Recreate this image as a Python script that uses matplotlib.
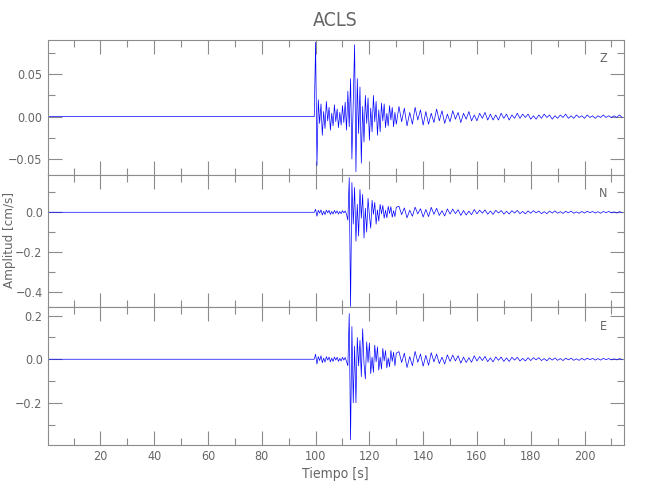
import numpy as np
import matplotlib
matplotlib.use("Agg")
import matplotlib.pyplot as plt
from matplotlib.ticker import MultipleLocator

# Estación y componentes
station = "ACLS"
components = ["Z", "N", "E"]

# Muestreo de tiempo (s): tramo previo, tramo denso (0.5 s) y coda (1 s)
t_pre = [0.0, 99.5]
t_dense = np.arange(100.0, 130.01, 0.5)
t_coda = np.arange(131.0, 214.01, 1.0)

z_pre = [0.0, 0.0]
z_dense = [0.088, -0.058, 0.020, -0.008, 0.015, -0.022, 0.006, -0.014, 0.018, -0.005,
           0.011, -0.016, 0.004, -0.011, 0.014, -0.006, 0.009, -0.013, 0.005, -0.010,
           0.013, -0.007, 0.017, -0.016,
           0.030, -0.012, 0.045, -0.050, 0.020, 0.085, -0.065, 0.045, -0.020, 0.035,
           -0.055, 0.012, -0.030, 0.025, -0.008, 0.022, -0.028, 0.010, -0.018, 0.025,
           -0.006, 0.018, -0.022, 0.008, -0.018, 0.016, -0.005, 0.015, -0.013, 0.004,
           -0.011, 0.013, -0.004, 0.011, -0.012, 0.005, -0.009]
z_coda = [0.012, -0.006, 0.010, -0.011, 0.005, -0.009, 0.011, -0.004, 0.008, -0.010,
          0.006, -0.009, 0.004, -0.007, 0.009, -0.005, 0.007, -0.008, 0.003, -0.006,
          0.007, -0.003, 0.005, -0.007, 0.004, -0.003, 0.006, -0.005, 0.002, -0.005,
          0.004, -0.002, 0.005, -0.004, 0.003, -0.004, 0.002, -0.004, 0.004, -0.002,
          0.003, -0.004, 0.002, -0.002, 0.004, -0.002, 0.003, -0.001, 0.003, -0.003,
          0.001, -0.003, 0.002, -0.002, 0.003, -0.001, 0.002, -0.003, 0.001, -0.002,
          0.002, -0.001, 0.003, -0.002, 0.001, -0.002, 0.002, -0.001, 0.001, -0.002,
          0.002, -0.001, 0.001, -0.002, 0.001, -0.001, 0.002, -0.001, 0.001, -0.001,
          0.001, -0.001, 0.002, -0.001]

n_pre = [0.0, 0.0]
n_dense = [0.015, -0.020, 0.010, -0.004, 0.012, -0.014, 0.005, -0.012, 0.011, -0.003,
           0.010, -0.011, 0.004, -0.009, 0.009, -0.005, 0.007, -0.009, 0.004, -0.007,
           0.008, -0.003, 0.007, -0.010,
           -0.040, 0.175, -0.476, 0.150, -0.060, 0.125, -0.146, 0.040, -0.120, 0.115,
           -0.030, 0.090, -0.130, 0.020, -0.100, 0.070, -0.015, -0.080, 0.060, -0.010,
           0.050, -0.060, 0.012, -0.045, 0.040, -0.008, 0.035, -0.030, 0.010, -0.028,
           0.030, -0.006, 0.028, -0.025, 0.008, -0.022, 0.025]
n_coda = [0.030, -0.012, 0.022, -0.028, 0.010, -0.020, 0.026, -0.008, 0.018, -0.024,
          0.014, -0.022, 0.025, -0.010, 0.020, -0.016, 0.008, -0.019, 0.017, -0.009,
          0.016, -0.007, 0.013, -0.016, 0.009, -0.014, 0.006, -0.012, 0.014, -0.008,
          0.011, -0.005, 0.012, -0.010, 0.006, -0.011, 0.010, -0.004, 0.009, -0.009,
          0.005, -0.009, 0.008, -0.004, 0.009, -0.007, 0.004, -0.008, 0.007, -0.005,
          0.008, -0.003, 0.006, -0.007, 0.003, -0.007, 0.006, -0.004, 0.007, -0.005,
          0.003, -0.006, 0.005, -0.003, 0.006, -0.005, 0.002, -0.005, 0.004, -0.004,
          0.005, -0.002, 0.004, -0.004, 0.003, -0.005, 0.004, -0.002, 0.004, -0.003,
          0.002, -0.004, 0.003, -0.002]

e_pre = [0.0, 0.0]
e_dense = [0.023, -0.022, 0.012, -0.006, 0.016, -0.016, 0.005, -0.013, 0.012, -0.004,
           0.010, -0.012, 0.005, -0.010, 0.010, -0.004, 0.009, -0.010, 0.004, -0.008,
           0.009, -0.004, 0.008, -0.010,
           -0.030, 0.210, -0.370, 0.150, -0.200, 0.060, -0.200, 0.100, -0.030, 0.087,
           -0.080, 0.140, -0.020, -0.090, 0.080, -0.015, 0.075, -0.066, 0.010, -0.060,
           0.065, -0.012, 0.057, -0.050, 0.010, -0.045, 0.050, -0.008, 0.040, -0.040,
           0.006, -0.035, 0.040, -0.010, 0.032, -0.030, 0.028]
e_coda = [0.035, -0.015, 0.028, -0.038, 0.012, -0.030, 0.036, -0.014, 0.024, -0.032,
          0.018, -0.028, 0.030, -0.012, 0.024, -0.020, 0.010, -0.022, 0.020, -0.010,
          0.019, -0.008, 0.016, -0.018, 0.010, -0.015, 0.007, -0.014, 0.016, -0.008,
          0.012, -0.006, 0.013, -0.011, 0.006, -0.012, 0.011, -0.005, 0.010, -0.010,
          0.006, -0.010, 0.009, -0.004, 0.009, -0.008, 0.004, -0.008, 0.007, -0.006,
          0.007, -0.003, 0.007, -0.006, 0.003, -0.007, 0.006, -0.004, 0.006, -0.005,
          0.003, -0.006, 0.005, -0.003, 0.005, -0.005, 0.002, -0.005, 0.004, -0.004,
          0.005, -0.002, 0.004, -0.004, 0.003, -0.004, 0.004, -0.002, 0.003, -0.003,
          0.002, -0.003, 0.003, -0.002]

# Límites y ticks de cada panel
ylims = [(-0.069, 0.0906), (-0.478, 0.188), (-0.394, 0.240)]
y_major = [0.05, 0.2, 0.2]
y_minor = [0.025, 0.1, 0.1]
y_fmt = ["{:.2f}", "{:.1f}", "{:.1f}"]

t = np.concatenate([t_pre, t_dense, t_coda])
traces = [np.concatenate([z_pre, z_dense, z_coda]),
          np.concatenate([n_pre, n_dense, n_coda]),
          np.concatenate([e_pre, e_dense, e_coda])]

plt.rcParams['font.family'] = ['DejaVu Sans']
plt.rcParams['font.stretch'] = 'condensed'
plt.rcParams['font.weight'] = 'light'
text_col = "#666666"
axis_col = "#8c8c8c"

fig = plt.figure(figsize=(6.5, 5), dpi=100)
W, H = 650.0, 500.0
left, right = 47.5, 623.5
edges = [40, 175, 307, 445]

axes = []
for i in range(3):
    y0, y1 = edges[i], edges[i + 1]
    ax = fig.add_axes([left / W, 1 - y1 / H, (right - left) / W, (y1 - y0) / H])
    ax.plot(t, traces[i], color="#0000ff", lw=0.5)
    ax.set_xlim(0.3, 214.5)
    ax.set_ylim(*ylims[i])
    ax.xaxis.set_major_locator(MultipleLocator(20))
    ax.xaxis.set_minor_locator(MultipleLocator(10))
    ax.yaxis.set_major_locator(MultipleLocator(y_major[i]))
    ax.yaxis.set_minor_locator(MultipleLocator(y_minor[i]))
    fmt = y_fmt[i]
    ax.yaxis.set_major_formatter(plt.FuncFormatter(
        lambda v, p, f=fmt: f.format(v).replace("-", "\u2212") if abs(v) > 1e-9 else f.format(0.0)))
    ax.tick_params(which="both", direction="in", top=True, right=True,
                   color=axis_col, labelcolor=text_col, labelsize=9, width=0.8)
    ax.tick_params(which="major", length=10)
    ax.tick_params(which="minor", length=5)
    for s in ax.spines.values():
        s.set_color(axis_col)
        s.set_linewidth(0.8)
    if i < 2:
        ax.tick_params(labelbottom=False)
    ax.text(0.965, 0.86, components[i], transform=ax.transAxes, ha="center",
            va="center", color=text_col, fontsize=9)
    axes.append(ax)

axes[2].set_xlabel("Tiempo [s]", color=text_col, fontsize=10, labelpad=3)
fig.text(10 / W, 1 - 240 / H, "Amplitud [cm/s]", rotation=90, ha="center",
         va="center", color=text_col, fontsize=9.5)
fig.text(0.5 * (left + right) / W, 1 - 20 / H, station, ha="center", va="center",
         color=text_col, fontsize=14)

fig.savefig("out.png", dpi=100)
